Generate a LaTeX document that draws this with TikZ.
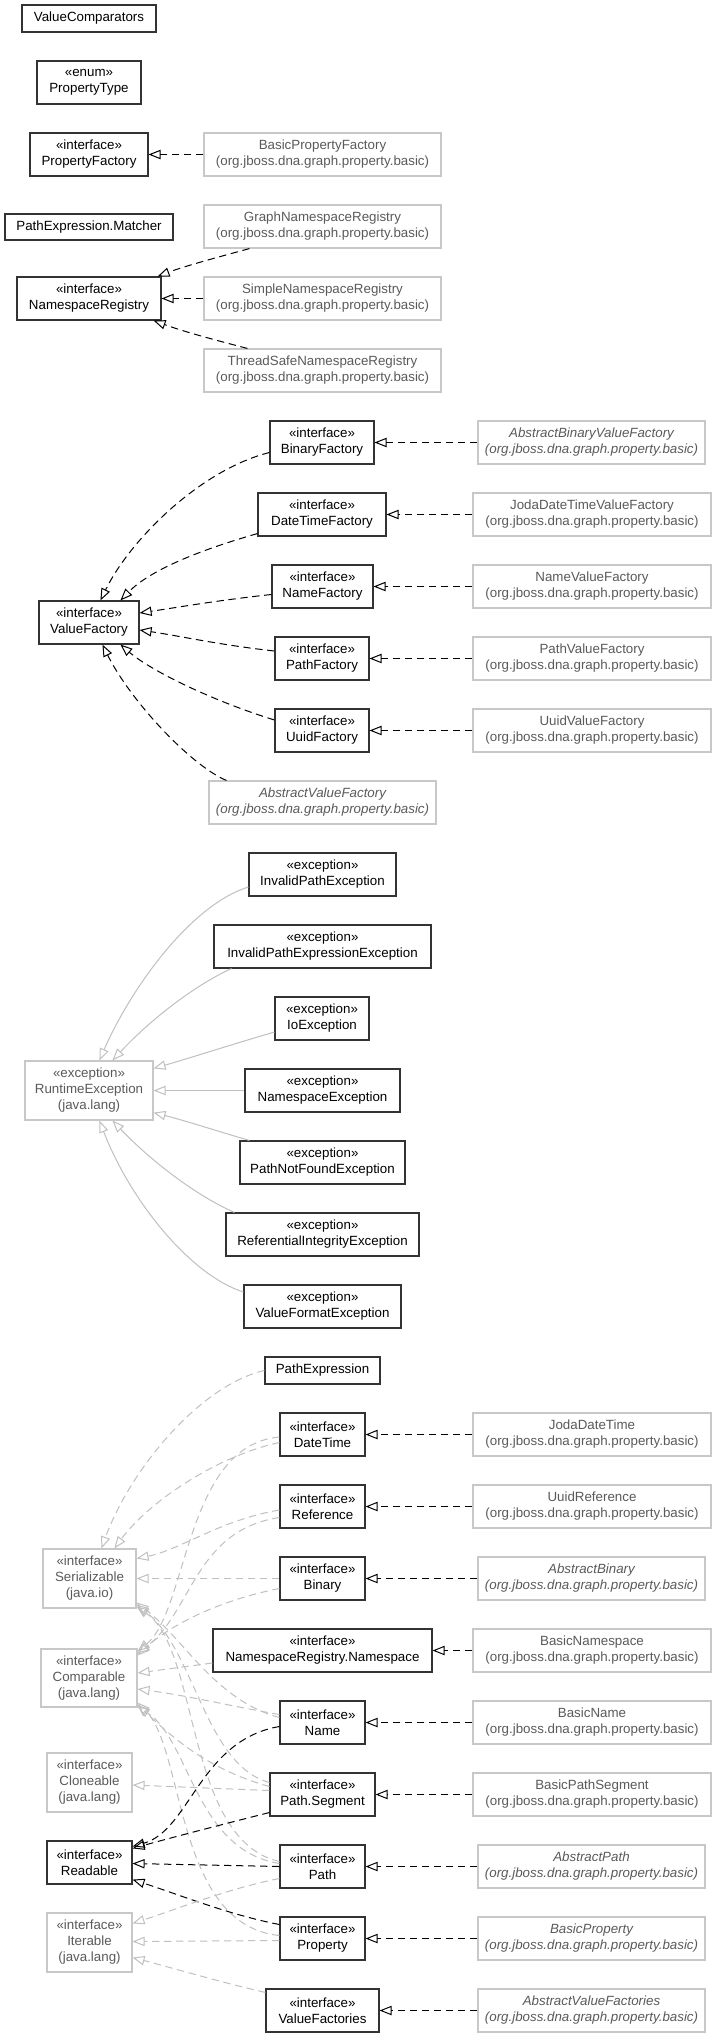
\documentclass[tikz,border=0pt]{standalone}
\usepackage{fontspec}
\setmainfont{Liberation Sans}
\usetikzlibrary{arrows.meta,calc}
\definecolor{bdr}{HTML}{333333}
\definecolor{gbdr}{HTML}{C8C8C8}
\definecolor{gtxt}{HTML}{5A5A5A}
\definecolor{gedge}{HTML}{C0C0C0}
\newcommand\mkbox[7]{%
  \node[#1, minimum width={(#5-#3)*0.75pt}, minimum height={(#6-#4)*0.75pt}]
    (#2) at ({(#3+#5)/2},{(#4+#6)/2}) {#7};}
\begin{document}
\begin{tikzpicture}[x=0.75pt,y=-0.75pt,
  font=\fontsize{10}{12}\selectfont,
  cls/.style={draw=bdr, line width=0.85pt, fill=white, inner sep=0pt, align=center, text=black},
  ext/.style={draw=gbdr, line width=0.85pt, fill=white, inner sep=0pt, align=center, text=gtxt},
  abs/.style={ext, font=\fontsize{10}{12}\selectfont\itshape},
  tip/.style={-{Triangle[open,length=9pt,width=7pt]}},
  real/.style={tip, draw=black, line width=0.75pt, dash pattern=on 5.5pt off 3.5pt},
  gsolid/.style={tip, draw=gedge, line width=0.75pt},
  gdash/.style={tip, draw=gedge, line width=0.75pt, dash pattern=on 5.5pt off 3.5pt},
]
\useasboundingbox[fill=white] (0,0) rectangle (717,2037);
\def\pkg{(org.jboss.dna.graph.property.basic)}

% ---------- section 1 ----------
\mkbox{cls}{vc}{22}{5}{156}{32}{ValueComparators}
\mkbox{cls}{ptype}{37}{61}{141}{104}{«enum»\\PropertyType}
\mkbox{cls}{pf}{30}{133}{148}{176}{«interface»\\PropertyFactory}
\mkbox{ext}{bpf}{204}{133}{441}{176}{BasicPropertyFactory\\\pkg}
\mkbox{cls}{pem}{5}{214}{173}{240}{PathExpression.Matcher}
\mkbox{ext}{gnr}{204}{205}{441}{248}{GraphNamespaceRegistry\\\pkg}
\mkbox{cls}{nr}{17}{277}{161}{320}{«interface»\\NamespaceRegistry}
\mkbox{ext}{snr}{204}{277}{441}{320}{SimpleNamespaceRegistry\\\pkg}
\mkbox{ext}{tsnr}{204}{349}{441}{392}{ThreadSafeNamespaceRegistry\\\pkg}

\draw[real] (bpf.west) -- (pf.east);
\draw[real] ($(gnr.south west)+(46,0)$) .. controls (215,258) and (185,266) .. ($(nr.north east)+(-4,0)$);
\draw[real] (snr.west) -- (nr.east);
\draw[real] ($(tsnr.north west)+(44,0)$) .. controls (215,340) and (185,332) .. ($(nr.south east)+(-8,0)$);

% ---------- section 2 ----------
\mkbox{cls}{bf}{270}{421}{374}{464}{«interface»\\BinaryFactory}
\mkbox{abs}{abvf}{478}{421}{705}{464}{AbstractBinaryValueFactory\\\pkg}
\mkbox{cls}{dtf}{258}{493}{386}{536}{«interface»\\DateTimeFactory}
\mkbox{ext}{jdtvf}{473}{493}{711}{536}{JodaDateTimeValueFactory\\\pkg}
\mkbox{cls}{nf}{272}{565}{373}{608}{«interface»\\NameFactory}
\mkbox{ext}{nvf}{473}{565}{711}{608}{NameValueFactory\\\pkg}
\mkbox{cls}{vf}{39}{601}{139}{644}{«interface»\\ValueFactory}
\mkbox{cls}{pfac}{275}{637}{369}{680}{«interface»\\PathFactory}
\mkbox{ext}{pvf}{473}{637}{711}{680}{PathValueFactory\\\pkg}
\mkbox{cls}{uf}{275}{709}{369}{752}{«interface»\\UuidFactory}
\mkbox{ext}{uvf}{473}{709}{711}{752}{UuidValueFactory\\\pkg}
\mkbox{abs}{avf}{209}{781}{436}{824}{AbstractValueFactory\\\pkg}

\draw[real] (abvf.west) -- (bf.east);
\draw[real] (jdtvf.west) -- (dtf.east);
\draw[real] (nvf.west) -- (nf.east);
\draw[real] (pvf.west) -- (pfac.east);
\draw[real] (uvf.west) -- (uf.east);
\draw[real] ($(bf.west)+(0,10)$) .. controls (200,470) and (130,540) .. ($(vf.north west)+(62,0)$);
\draw[real] ($(dtf.south west)+(0,-3)$) .. controls (200,550) and (150,570) .. ($(vf.north west)+(82,0)$);
\draw[real] ($(nf.west)+(0,8)$) .. controls (220,600) and (180,607) .. ($(vf.east)+(0,-9.5)$);
\draw[real] ($(pfac.west)+(0,-7.5)$) .. controls (220,645) and (180,636) .. ($(vf.east)+(0,7.5)$);
\draw[real] ($(uf.west)+(0,-10.5)$) .. controls (210,700) and (150,670) .. ($(vf.south west)+(82,0)$);
\draw[real] ($(avf.north west)+(18,0)$) .. controls (190,765) and (130,700) .. ($(vf.south west)+(64,0)$);

% ---------- section 3 ----------
\mkbox{cls}{ipe}{249}{853}{396}{896}{«exception»\\InvalidPathException}
\mkbox{cls}{ipee}{214}{925}{431}{968}{«exception»\\InvalidPathExpressionException}
\mkbox{cls}{ioe}{275}{997}{369}{1040}{«exception»\\IoException}
\mkbox{ext}{rte}{25}{1061}{153}{1120}{«exception»\\RuntimeException\\(java.lang)}
\mkbox{cls}{nse}{245}{1069}{400}{1112}{«exception»\\NamespaceException}
\mkbox{cls}{pnfe}{240}{1141}{405}{1184}{«exception»\\PathNotFoundException}
\mkbox{cls}{rie}{226}{1213}{419}{1256}{«exception»\\ReferentialIntegrityException}
\mkbox{cls}{vfe}{244}{1285}{401}{1328}{«exception»\\ValueFormatException}

\draw[gsolid] ($(ipe.west)+(0,12.5)$) .. controls (190,905) and (130,990) .. ($(rte.north west)+(75,0)$);
\draw[gsolid] ($(ipee.south west)+(18,0)$) .. controls (195,985) and (150,1020) .. ($(rte.north west)+(88,0)$);
\draw[gsolid] ($(ioe.west)+(0,13.5)$) .. controls (230,1045) and (190,1058) .. ($(rte.north east)+(0,8)$);
\draw[gsolid] (nse.west) -- (rte.east);
\draw[gsolid] ($(pnfe.north west)+(10,0)$) .. controls (220,1132) and (190,1122) .. ($(rte.south east)+(0,-8)$);
\draw[gsolid] ($(rie.north west)+(9,0)$) .. controls (195,1195) and (150,1160) .. ($(rte.south west)+(88,0)$);
\draw[gsolid] ($(vfe.west)+(0,-14.5)$) .. controls (190,1275) and (130,1200) .. ($(rte.south west)+(75,0)$);

% ---------- section 4 ----------
\mkbox{cls}{pe}{265}{1357}{380}{1384}{PathExpression}
\mkbox{cls}{dt}{280}{1413}{365}{1456}{«interface»\\DateTime}
\mkbox{cls}{ref}{280}{1485}{365}{1528}{«interface»\\Reference}
\mkbox{ext}{ser}{43}{1549}{136}{1608}{«interface»\\Serializable\\(java.io)}
\mkbox{cls}{bin}{280}{1557}{365}{1600}{«interface»\\Binary}
\mkbox{cls}{ns}{213}{1629}{432}{1672}{«interface»\\NamespaceRegistry.Namespace}
\mkbox{ext}{cmp}{41}{1649}{137}{1707}{«interface»\\Comparable\\(java.lang)}
\mkbox{cls}{name}{280}{1701}{365}{1744}{«interface»\\Name}
\mkbox{ext}{cln}{47}{1753}{132}{1812}{«interface»\\Cloneable\\(java.lang)}
\mkbox{cls}{seg}{270}{1773}{375}{1816}{«interface»\\Path.Segment}
\mkbox{cls}{rd}{47}{1841}{132}{1884}{«interface»\\Readable}
\mkbox{cls}{path}{280}{1845}{365}{1888}{«interface»\\Path}
\mkbox{ext}{itr}{47}{1913}{132}{1972}{«interface»\\Iterable\\(java.lang)}
\mkbox{cls}{prop}{280}{1917}{365}{1960}{«interface»\\Property}
\mkbox{cls}{vfs}{266}{1989}{379}{2032}{«interface»\\ValueFactories}

\mkbox{ext}{jdt}{473}{1413}{711}{1456}{JodaDateTime\\\pkg}
\mkbox{ext}{uref}{473}{1485}{711}{1528}{UuidReference\\\pkg}
\mkbox{abs}{ab}{478}{1557}{705}{1600}{AbstractBinary\\\pkg}
\mkbox{ext}{bns}{473}{1629}{711}{1672}{BasicNamespace\\\pkg}
\mkbox{ext}{bn}{473}{1701}{711}{1744}{BasicName\\\pkg}
\mkbox{ext}{bps}{473}{1773}{711}{1816}{BasicPathSegment\\\pkg}
\mkbox{abs}{ap}{478}{1845}{705}{1888}{AbstractPath\\\pkg}
\mkbox{abs}{bp}{478}{1917}{705}{1960}{BasicProperty\\\pkg}
\mkbox{abs}{avfs}{478}{1989}{705}{2032}{AbstractValueFactories\\\pkg}

\draw[real] (jdt.west) -- (dt.east);
\draw[real] (uref.west) -- (ref.east);
\draw[real] (ab.west) -- (bin.east);
\draw[real] (bns.west) -- (ns.east);
\draw[real] (bn.west) -- (name.east);
\draw[real] (bps.west) -- (seg.east);
\draw[real] (ap.west) -- (path.east);
\draw[real] (bp.west) -- (prop.east);
\draw[real] (avfs.west) -- (vfs.east);

% to Serializable
\draw[gdash] (pe.west) .. controls (200,1385) and (130,1470) .. ($(ser.north west)+(59,0)$);
\draw[gdash] ($(dt.west)+(0,8)$) .. controls (220,1455) and (150,1500) .. ($(ser.north west)+(72,0)$);
\draw[gdash] ($(ref.west)+(0,3.5)$) .. controls (220,1520) and (180,1550) .. ($(ser.north east)+(0,10)$);
\draw[gdash] (bin.west) -- (ser.east);
\draw[gdash] ($(name.west)+(0,-5)$) .. controls (215,1700) and (185,1640) .. ($(ser.south east)+(0,-6)$);
\draw[gdash] ($(seg.west)+(0,-12)$) .. controls (205,1765) and (195,1650) .. ($(ser.south east)+(0,-4)$);
\draw[gdash] ($(path.west)+(0,-5)$) .. controls (185,1840) and (200,1650) .. ($(ser.south east)+(0,-2)$);

% to Comparable
\draw[gdash] ($(dt.west)+(0,2.5)$) .. controls (185,1445) and (188,1610) .. ($(cmp.north east)+(0,3)$);
\draw[gdash] ($(ref.west)+(0,11)$) .. controls (195,1530) and (192,1612) .. ($(cmp.north east)+(0,5)$);
\draw[gdash] ($(bin.west)+(0,10)$) .. controls (220,1600) and (170,1625) .. ($(cmp.north east)+(0,7)$);
\draw[gdash] ($(ns.west)+(0,12.5)$) -- ($(cmp.east)+(0,-5)$);
\draw[gdash] ($(name.west)+(0,-8)$) .. controls (230,1706) and (190,1696) .. ($(cmp.east)+(0,11)$);
\draw[gdash] ($(seg.west)+(0,-8)$) .. controls (210,1770) and (175,1740) .. ($(cmp.south east)+(0,-3)$);
\draw[gdash] ($(path.west)+(0,-3)$) .. controls (195,1850) and (190,1740) .. ($(cmp.south east)+(0,-1)$);
\draw[gdash] ($(prop.west)+(0,-3)$) .. controls (175,1925) and (185,1750) .. ($(cmp.south east)+(0,-5)$);

% to Cloneable
\draw[gdash] ($(seg.west)+(0,-4)$) -- ($(cln.east)+(0,2.5)$);

% to Readable
\draw[real] ($(name.west)+(0,4)$) .. controls (200,1740) and (190,1830) .. ($(rd.north east)+(0,6)$);
\draw[real] ($(seg.west)+(0,18)$) .. controls (220,1825) and (170,1838) .. ($(rd.north east)+(0,8)$);
\draw[real] (path.west) -- ($(rd.east)+(0,1)$);
\draw[real] ($(prop.west)+(0,-14)$) .. controls (230,1915) and (180,1895) .. ($(rd.south east)+(0,-5)$);

% to Iterable
\draw[gdash] ($(path.west)+(0,12)$) .. controls (230,1888) and (180,1908) .. ($(itr.north east)+(0,11)$);
\draw[gdash] ($(prop.west)+(0,2)$) -- ($(itr.east)+(0,-1)$);
\draw[gdash] ($(vfs.north west)+(0,4)$) .. controls (220,1982) and (180,1970) .. ($(itr.south east)+(0,-15)$);
\end{tikzpicture}
\end{document}
